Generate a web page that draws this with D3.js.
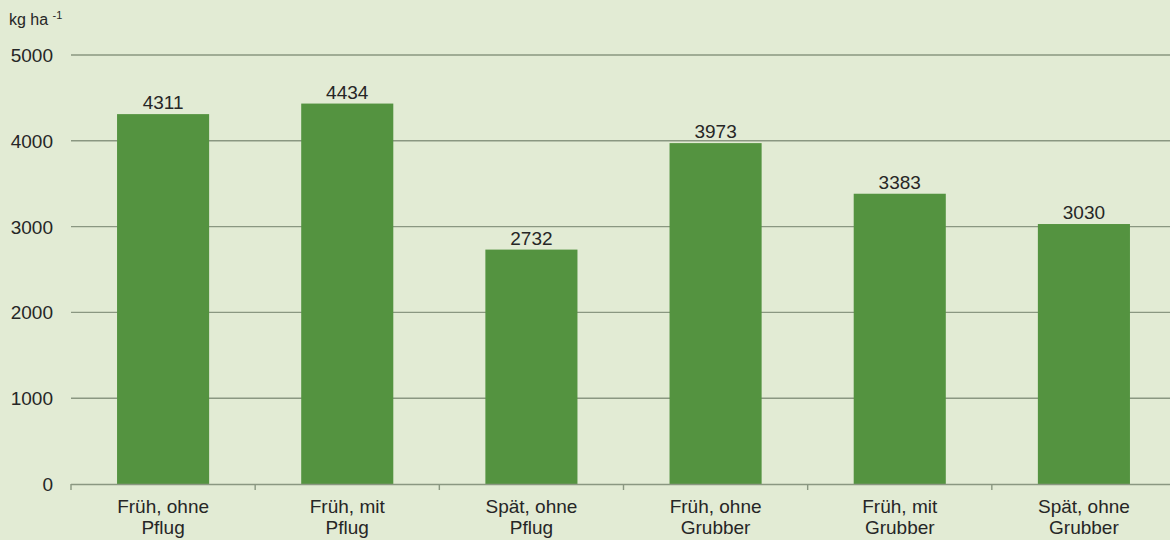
<!DOCTYPE html>
<html><head><meta charset="utf-8">
<script src="https://cdn.jsdelivr.net/npm/d3@7"></script>
<style>
html,body{margin:0;padding:0;background:#e2ebd4;}
svg{display:block;font-family:"Liberation Sans",Arial,sans-serif;}
</style></head><body>
<svg id="c" width="1170" height="540"></svg>
<script>
const categories = [["Früh, ohne","Pflug"],["Früh, mit","Pflug"],["Spät, ohne","Pflug"],["Früh, ohne","Grubber"],["Früh, mit","Grubber"],["Spät, ohne","Grubber"]];
const values = [4311, 4434, 2732, 3973, 3383, 3030];
const yTicks = [0, 1000, 2000, 3000, 4000, 5000];

(function(){
const svg = d3.select("#c");
svg.append("rect").attr("width",1170).attr("height",540).attr("fill","#e2ebd4");
const mLeft = 71, mRight = 1176, mTop = 55, mBottom = 484;
const x = d3.scaleBand().domain(d3.range(categories.length)).range([mLeft, mRight]).paddingInner(0.5).paddingOuter(0.25);
const y = d3.scaleLinear().domain([0, 5000]).range([mBottom, mTop]);
const txt = "#262626";

// gridlines
svg.append("g").selectAll("line").data(yTicks.filter(d=>d>0)).join("line")
  .attr("x1", mLeft).attr("x2", 1170).attr("y1", d=>y(d)).attr("y2", d=>y(d))
  .attr("stroke", "#8a9781").attr("stroke-width", 1.4);

// y labels
svg.append("g").selectAll("text").data(yTicks).join("text")
  .attr("x", 53).attr("y", d=>y(d)+7).attr("text-anchor","end")
  .attr("font-size", 19).attr("fill",txt).text(d=>d);

// bars
svg.append("g").selectAll("rect").data(values).join("rect")
  .attr("x", (d,i)=>x(i)).attr("width", x.bandwidth())
  .attr("y", d=>y(d)).attr("height", d=>mBottom - y(d))
  .attr("fill", "#549340");

// value labels
svg.append("g").selectAll("text").data(values).join("text")
  .attr("x", (d,i)=>x(i)+x.bandwidth()/2).attr("y", d=>y(d)-5)
  .attr("text-anchor","middle").attr("font-size",19).attr("fill",txt).text(d=>d);

// x axis line
svg.append("line").attr("x1", mLeft).attr("x2", 1170).attr("y1", mBottom+0.5).attr("y2", mBottom+0.5)
  .attr("stroke","#8a9781").attr("stroke-width",1.4);
const step = x.step();
const tickPos = d3.range(categories.length+1).map(i=>mLeft + i*step);
svg.append("g").selectAll("line").data(tickPos).join("line")
  .attr("x1", d=>d).attr("x2", d=>d).attr("y1", mBottom).attr("y2", mBottom+6)
  .attr("stroke","#8a9781").attr("stroke-width",1.4);

// category labels
const cl = svg.append("g").selectAll("text").data(categories).join("text")
  .attr("text-anchor","middle").attr("font-size",19).attr("fill",txt);
cl.each(function(d,i){
  const t = d3.select(this);
  const cx = x(i)+x.bandwidth()/2;
  d.forEach((s,j)=>t.append("tspan").attr("x",cx).attr("y",513+j*21).text(s));
});

// unit label
const u = svg.append("text").attr("x", 9).attr("y", 25).attr("font-size", 16).attr("fill",txt);
u.append("tspan").text("kg ha ");
u.append("tspan").attr("font-size", 11).attr("dy", -6).text("-1");
})();
</script>
</body></html>
